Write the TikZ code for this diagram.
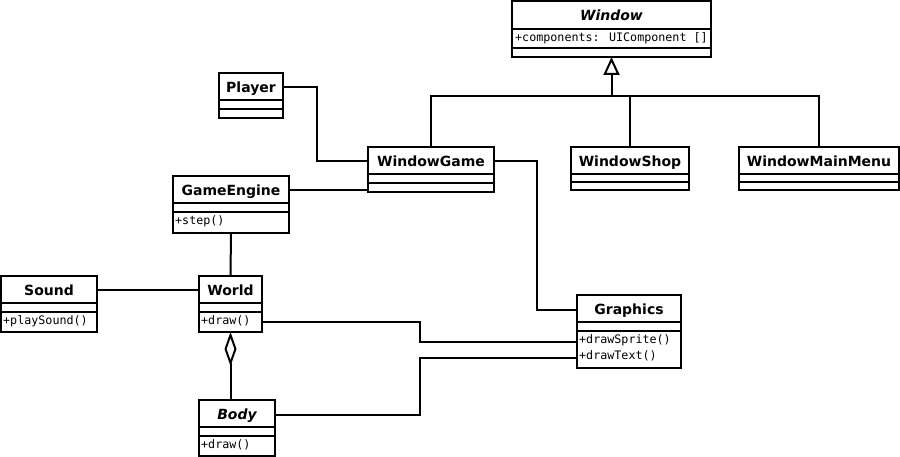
\documentclass[tikz,border=0pt]{standalone}
\usepackage{fontspec}
\setmainfont{DejaVu Sans}
\newfontfamily\monof{DejaVu Sans Mono}
\usetikzlibrary{arrows.meta}
\tikzset{
  box/.style={draw, line width=2pt, anchor=north west, inner sep=0pt, outer sep=0pt},
  title/.style={font=\fontsize{14}{16}\selectfont\bfseries, inner sep=0pt, text height=10pt, text depth=0pt},
  members/.style={font=\fontsize{11.7}{16}\selectfont\monof, anchor=north west, inner sep=0pt, align=left},
  wire/.style={line width=2pt},
}
\newcommand{\umlclass}[9]{%
  \node[box, minimum width=#4pt, minimum height={#5pt+#6pt+#7pt}] (#1) at (#2,-#3) {};
  \node[title] (#1t) at (#2+#4/2,-#3-#5/2-1) {#8};
  \draw[wire] (#2,-#3-#5) -- ++(#4,0);
  \draw[wire] (#2,-#3-#5-#6) -- ++(#4,0);
  \coordinate (#1m) at (#2,-#3-#5-#6-#7/2);
  \node[members] (#1ms) at (#2+2,-#3-#5-#6-3.5) {#9};
}
\begin{document}
\begin{tikzpicture}[x=1pt,y=1pt]
\useasboundingbox (0,0) rectangle (900,-457);
\umlclass{window}{512}{1}{199}{28}{19}{9}{\itshape Window}{}
\node[members] (attr) at (515,-32.5) {+components: UIComponent []};
\umlclass{player}{219}{73}{64}{27}{9}{9}{Player}{}
\umlclass{wg}{368}{147}{126}{27}{9}{9}{WindowGame}{}
\umlclass{ws}{571}{147}{118}{27}{8}{8}{WindowShop}{}
\umlclass{wmm}{739}{147}{160}{27}{8}{8}{WindowMainMenu}{}
\umlclass{ge}{173}{176}{116}{27}{9}{21}{GameEngine}{+step()}
\umlclass{sound}{1}{276}{96}{27}{9}{20}{Sound}{+playSound()}
\umlclass{world}{199}{276}{63}{27}{9}{20}{World}{+draw()}
\umlclass{body}{199}{400}{76}{27}{9}{20}{\itshape Body}{+draw()}
\umlclass{gfx}{577}{295}{104}{27}{9}{37}{Graphics}{+drawSprite()\\+drawText()}
% generalization
\coordinate (hub) at (window.south |- 0,-96);
\draw[wire] (wg.north) |- (wmm.north |- hub) -- (wmm.north);
\draw[wire] (ws.north) -- (ws.north |- hub);
\draw[wire, -{Triangle[open, width=16pt, length=18pt]}] (hub) -- (window.south);
% associations
\coordinate (b1) at (317,0);
\draw[wire] (player.east |- playert) -| (b1 |- wgt) -- (wg.west |- wgt);
\draw[wire] (ge.east |- get) -- (wg.west |- get);
\draw[wire] (ge.south) -- (world.north);
\draw[wire] (sound.east |- soundt) -- (world.west |- worldt);
\coordinate (b2) at (537,0);
\draw[wire] (wg.east |- wgt) -| (b2 |- gfxt) -- (gfx.west |- gfxt);
\coordinate (b3) at (420,0);
\coordinate (gs) at ([yshift=8pt]gfxm);
\coordinate (gd) at ([yshift=-8pt]gfxm);
\draw[wire] (world.east |- worldm) -| (b3 |- gs) -- (gs);
\draw[wire] (body.east |- bodyt) -| (b3 |- gd) -- (gd);
% aggregation
\draw[wire, {Diamond[open, width=12pt, length=34pt]}-] (world.south) -- (world.south |- body.north);
\end{tikzpicture}
\end{document}
